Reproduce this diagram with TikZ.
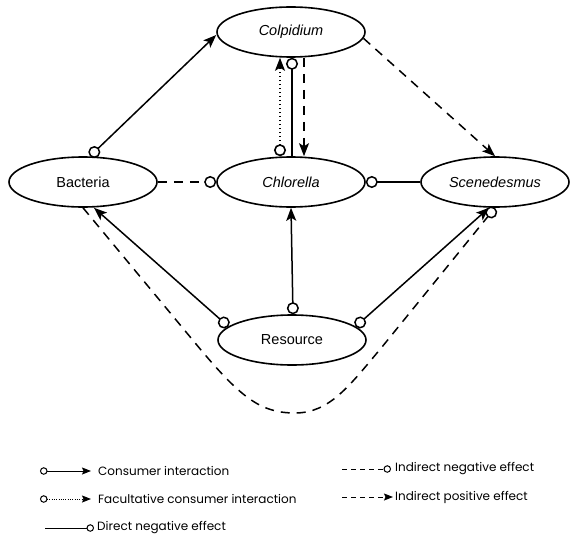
\documentclass[tikz,border=0pt]{standalone}
\usepackage{fontspec}
\setmainfont{Liberation Sans}
\newfontfamily\legfont{Poppins}
\usetikzlibrary{arrows.meta,shapes.geometric}

\begin{document}
\begin{tikzpicture}[x=1pt, y=-1pt, line join=round, font=\fontsize{14.5}{16}\selectfont,
  sp/.style={draw, ellipse, line width=1.6pt, minimum width=148pt, minimum height=50pt, inner sep=0pt},
  cons/.style={line width=1.5pt, {Circle[open, length=12pt, width=12pt]}-{Stealth[length=13pt, width=10pt, inset=3pt]}},
  fac/.style={cons, line width=1.6pt, dash pattern=on 1.4pt off 2.6pt},
  dneg/.style={line width=1.5pt, -{Circle[open, length=12pt, width=12pt]}},
  ineg/.style={dneg, dash pattern=on 9pt off 7pt},
  ipos/.style={line width=1.5pt, dash pattern=on 9pt off 7pt, -{Stealth[length=13pt, width=10pt, inset=3pt]}},
  % legend styles (thinner, smaller tips)
  leg/.style={anchor=west, inner sep=0pt, font=\legfont\fontsize{12}{14}\selectfont},
  lcons/.style={line width=1pt, {Circle[open, length=7.5pt, width=7.5pt]}-{Stealth[length=9pt, width=7pt, inset=1.5pt]}},
  lfac/.style={lcons, dash pattern=on 0.7pt off 1.6pt},
  ldneg/.style={line width=1pt, -{Circle[open, length=7.5pt, width=7.5pt]}},
  lineg/.style={ldneg, dash pattern=on 5pt off 4pt},
  lipos/.style={line width=1pt, dash pattern=on 5pt off 4pt, -{Stealth[length=9pt, width=7pt, inset=1.5pt]}}]
\useasboundingbox (0,0) rectangle (570,535);

% species and resource
\node[sp] (Col) at (291,32) {\itshape Colpidium};
\node[sp] (Bac) at (83,182) {Bacteria};
\node[sp] (Chl) at (291,182) {\itshape Chlorella};
\node[sp] (Sce) at (495,182) {\itshape Scenedesmus};
\node[sp] (Res) at (292,340) {Resource};

% consumer interactions
\draw[cons] ([xshift=7pt]Bac.north) -- ([yshift=-3pt]Col.west);
\draw[cons] ([xshift=1pt]Res.north) -- (Chl.south);
\draw[cons] (Res.168) -- ([xshift=11pt]Bac.south);
\draw[cons] (Res.12) -- ([xshift=-6pt]Sce.south);
\draw[fac] ([xshift=-11pt]Chl.north) -- ([xshift=-11pt]Col.south);

% direct negative effects
\draw[dneg] ([xshift=1pt]Chl.north) -- ([xshift=1pt]Col.south);
\draw[dneg] (Sce.west) -- (Chl.east);

% indirect effects
\draw[ipos] ([xshift=13pt]Col.south) -- ([xshift=13pt]Chl.north);
\draw[ipos] (Col.-5) -- (Sce.north);
\draw[ineg] (Bac.east) -- (Chl.west);
\draw[ineg] (Bac.south) -- (196,344) .. controls (240,397) and (260,413) .. (295,413)
  .. controls (330,413) and (350,385) .. (382,347) -- (Sce.south);

% legend
\node[leg] (l1) at (98,471) {Consumer interaction};
\node[leg] (l2) at (98,499) {Facultative consumer interaction};
\node[leg] (l3) at (97,528) {Direct negative effect};
\node[leg] (r1) at (395,469) {Indirect negative effect};
\node[leg] (r2) at (395,497) {Indirect positive effect};
\draw[lcons] ([xshift=-58pt]l1.west) -- ([xshift=-7pt]l1.west);
\draw[lfac] ([xshift=-58pt]l2.west) -- ([xshift=-7pt]l2.west);
\draw[ldneg] ([xshift=-52pt]l3.west) -- ([xshift=-3pt]l3.west);
\draw[lineg] ([xshift=-53pt]r1.west) -- ([xshift=-4pt]r1.west);
\draw[lipos] ([xshift=-53pt]r2.west) -- ([xshift=-2pt]r2.west);
\end{tikzpicture}
\end{document}
